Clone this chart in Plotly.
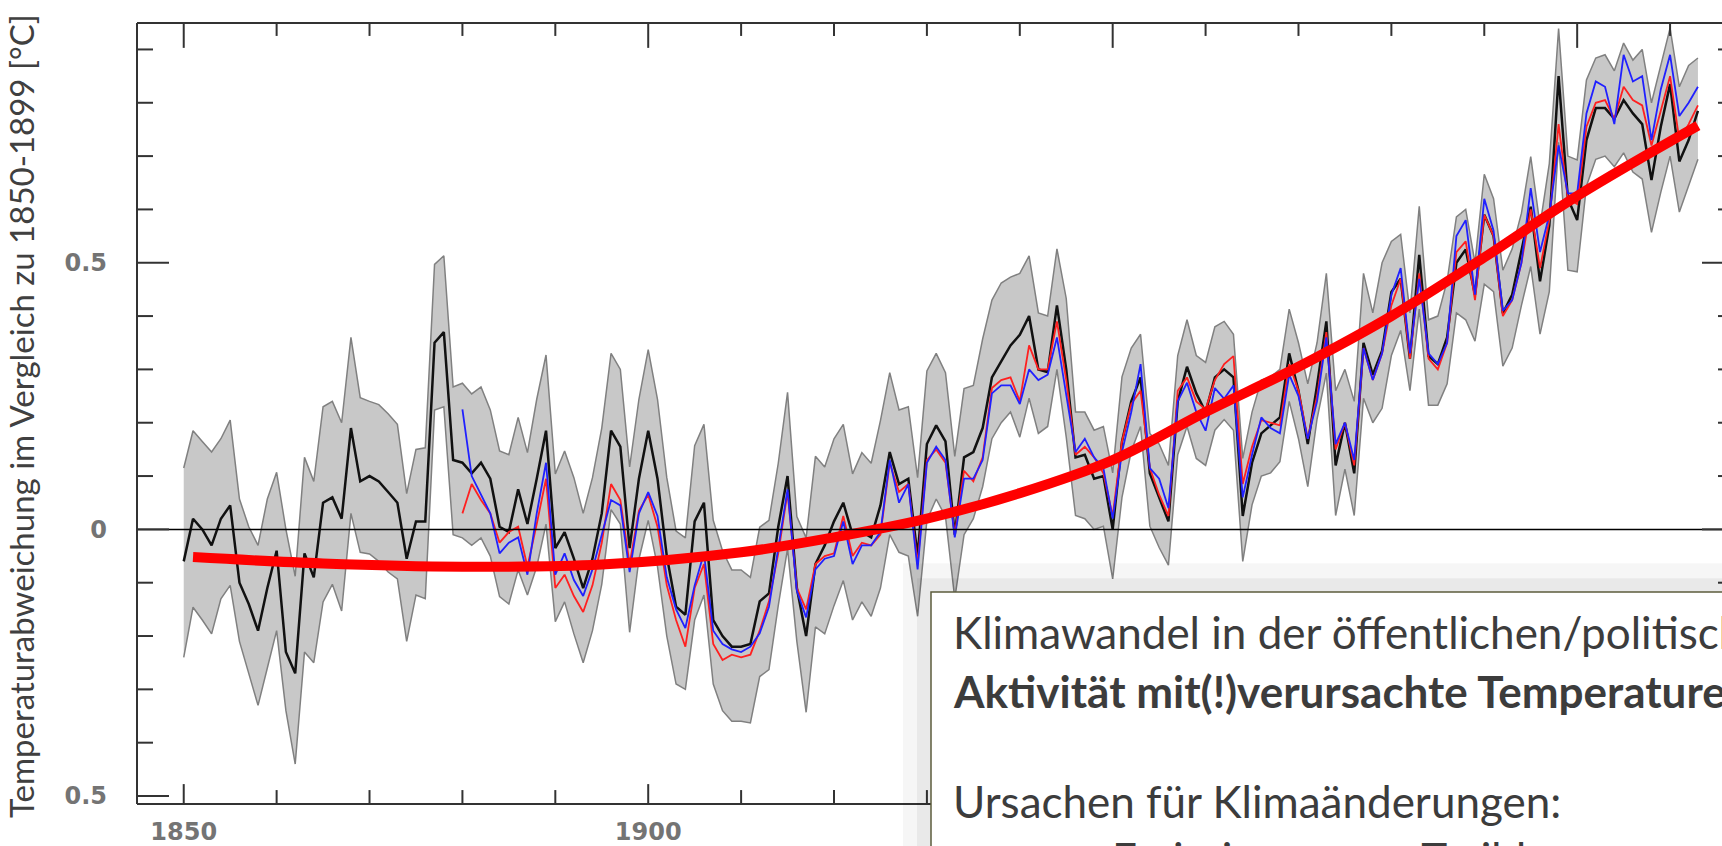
import plotly.graph_objects as go

# ---------------- data ----------------
years = list(range(1850, 2014))
years_b = list(range(1880, 2014))

black = [
    -0.06, 0.02, 0.00, -0.03, 0.02, 0.045, -0.10, -0.14, -0.19, -0.11,
    -0.04, -0.23, -0.27, -0.045, -0.09, 0.05, 0.06, 0.02, 0.19, 0.09,
    0.10, 0.09, 0.07, 0.05, -0.055, 0.015, 0.015, 0.35, 0.37, 0.13,
    0.125, 0.105, 0.125, 0.095, 0.005, -0.005, 0.075, 0.01, 0.095, 0.185,
    -0.035, -0.005, -0.055, -0.11, -0.055, 0.03, 0.185, 0.155, -0.035, 0.095,
    0.185, 0.095, -0.05, -0.145, -0.16, 0.015, 0.05, -0.17, -0.20, -0.22,
    -0.22, -0.215, -0.135, -0.12, 0.005, 0.10, -0.11, -0.20, -0.065, -0.03,
    0.015, 0.05, -0.01, -0.005, -0.015, 0.045, 0.145, 0.085, 0.095, -0.05,
    0.16, 0.195, 0.165, -0.01, 0.135, 0.145, 0.19, 0.285, 0.315, 0.345,
    0.365, 0.40, 0.30, 0.295, 0.42, 0.30, 0.135, 0.14, 0.095, 0.10,
    0.0, 0.165, 0.24, 0.285, 0.105, 0.06, 0.015, 0.24, 0.305, 0.255,
    0.22, 0.285, 0.30, 0.285, 0.025, 0.125, 0.18, 0.195, 0.21, 0.33,
    0.26, 0.16, 0.27, 0.39, 0.12, 0.20, 0.105, 0.35, 0.29, 0.335,
    0.445, 0.47, 0.32, 0.515, 0.325, 0.31, 0.36, 0.50, 0.525, 0.44,
    0.59, 0.55, 0.405, 0.44, 0.525, 0.605, 0.465, 0.57, 0.85, 0.62,
    0.58, 0.73, 0.79, 0.79, 0.77, 0.805, 0.78, 0.76, 0.655, 0.755,
    0.835, 0.69, 0.73, 0.785,
]

upper = [
    0.115, 0.185, 0.165, 0.145, 0.17, 0.205, 0.057, 0.005, -0.03, 0.057,
    0.107, 0.0, -0.088, 0.135, 0.09, 0.23, 0.24, 0.20, 0.36, 0.247,
    0.24, 0.234, 0.217, 0.197, 0.067, 0.15, 0.153, 0.497, 0.513, 0.267,
    0.274, 0.254, 0.267, 0.224, 0.147, 0.14, 0.21, 0.144, 0.244, 0.327,
    0.104, 0.147, 0.097, 0.03, 0.097, 0.19, 0.33, 0.30, 0.117, 0.244,
    0.337, 0.244, 0.097, -0.003, -0.016, 0.157, 0.197, 0.017, -0.04, -0.076,
    -0.076, -0.09, 0.004, 0.017, 0.124, 0.257, 0.024, -0.016, 0.137, 0.117,
    0.17, 0.197, 0.104, 0.144, 0.124, 0.204, 0.294, 0.224, 0.23, 0.097,
    0.297, 0.33, 0.294, 0.137, 0.264, 0.27, 0.357, 0.43, 0.462, 0.473,
    0.48, 0.513, 0.406, 0.40, 0.526, 0.433, 0.22, 0.22, 0.186, 0.193,
    0.106, 0.286, 0.34, 0.366, 0.18, 0.16, 0.12, 0.326, 0.393, 0.326,
    0.313, 0.38, 0.39, 0.366, 0.133, 0.22, 0.28, 0.286, 0.30, 0.413,
    0.35, 0.273, 0.35, 0.48, 0.26, 0.30, 0.24, 0.48, 0.406, 0.50,
    0.54, 0.553, 0.406, 0.606, 0.393, 0.40, 0.466, 0.586, 0.60, 0.50,
    0.666, 0.62, 0.486, 0.526, 0.593, 0.699, 0.57, 0.686, 0.939, 0.70,
    0.693, 0.843, 0.884, 0.89, 0.86, 0.912, 0.88, 0.90, 0.80, 0.87,
    0.94, 0.83, 0.87, 0.884,
]

lower = [
    -0.24, -0.146, -0.17, -0.196, -0.13, -0.105, -0.21, -0.27, -0.33, -0.26,
    -0.19, -0.34, -0.44, -0.23, -0.25, -0.136, -0.103, -0.153, 0.03, -0.043,
    -0.046, -0.06, -0.08, -0.093, -0.21, -0.123, -0.13, 0.224, 0.23, -0.01,
    -0.016, -0.03, -0.016, -0.05, -0.126, -0.14, -0.076, -0.123, -0.07, 0.01,
    -0.173, -0.136, -0.196, -0.25, -0.19, -0.103, 0.037, 0.01, -0.193, -0.056,
    0.017, -0.07, -0.20, -0.29, -0.30, -0.17, -0.123, -0.29, -0.34, -0.36,
    -0.36, -0.363, -0.276, -0.263, -0.143, -0.036, -0.21, -0.343, -0.183, -0.196,
    -0.143, -0.096, -0.17, -0.136, -0.163, -0.11, -0.01, -0.043, -0.05, -0.163,
    0.017, 0.057, 0.024, -0.13, -0.01, 0.02, 0.08, 0.17, 0.20, 0.22,
    0.173, 0.246, 0.18, 0.193, 0.30, 0.173, 0.026, 0.02, 0.0, 0.006,
    -0.093, 0.06, 0.147, 0.193, 0.006, -0.034, -0.067, 0.14, 0.193, 0.133,
    0.12, 0.186, 0.206, 0.186, -0.06, 0.046, 0.10, 0.106, 0.127, 0.24,
    0.17, 0.08, 0.207, 0.293, 0.026, 0.113, 0.026, 0.246, 0.20, 0.227,
    0.326, 0.373, 0.26, 0.413, 0.233, 0.233, 0.273, 0.406, 0.393, 0.353,
    0.46, 0.446, 0.306, 0.34, 0.42, 0.493, 0.366, 0.446, 0.726, 0.486,
    0.483, 0.644, 0.694, 0.70, 0.68, 0.706, 0.67, 0.657, 0.557, 0.632,
    0.70, 0.595, 0.644, 0.694,
]

red = [
    0.03, 0.085, 0.055, 0.03, -0.025, -0.005, 0.005, -0.07, 0.01, 0.095,
    -0.11, -0.085, -0.125, -0.155, -0.105, -0.025, 0.085, 0.055, -0.065, 0.035,
    0.065, 0.005, -0.105, -0.17, -0.22, -0.11, -0.065, -0.215, -0.245, -0.235,
    -0.24, -0.235, -0.19, -0.135, -0.045, 0.07, -0.11, -0.15, -0.065, -0.05,
    -0.045, 0.025, -0.05, -0.025, -0.03, -0.01, 0.125, 0.07, 0.085, -0.065,
    0.13, 0.15, 0.125, -0.01, 0.11, 0.09, 0.135, 0.265, 0.28, 0.285,
    0.24, 0.345, 0.30, 0.30, 0.39, 0.28, 0.14, 0.155, 0.135, 0.105,
    0.025, 0.165, 0.235, 0.26, 0.115, 0.065, 0.025, 0.26, 0.285, 0.24,
    0.225, 0.28, 0.31, 0.325, 0.085, 0.155, 0.205, 0.20, 0.195, 0.31,
    0.26, 0.17, 0.25, 0.37, 0.15, 0.20, 0.12, 0.34, 0.28, 0.33,
    0.42, 0.47, 0.32, 0.48, 0.32, 0.30, 0.35, 0.52, 0.54, 0.43,
    0.59, 0.55, 0.40, 0.43, 0.50, 0.60, 0.49, 0.58, 0.76, 0.62,
    0.61, 0.755, 0.80, 0.805, 0.77, 0.83, 0.805, 0.795, 0.72, 0.785,
    0.85, 0.73, 0.76, 0.795,
]

blue = [
    0.225, 0.10, 0.065, 0.03, -0.045, -0.025, -0.015, -0.085, 0.03, 0.125,
    -0.085, -0.045, -0.095, -0.125, -0.075, -0.01, 0.055, 0.045, -0.08, 0.03,
    0.07, 0.025, -0.09, -0.15, -0.185, -0.105, -0.045, -0.19, -0.215, -0.225,
    -0.23, -0.22, -0.195, -0.145, -0.035, 0.075, -0.115, -0.165, -0.075, -0.055,
    -0.05, 0.015, -0.065, -0.03, -0.03, -0.005, 0.13, 0.05, 0.085, -0.075,
    0.125, 0.155, 0.13, -0.015, 0.095, 0.095, 0.13, 0.255, 0.27, 0.27,
    0.235, 0.30, 0.28, 0.29, 0.36, 0.255, 0.145, 0.17, 0.135, 0.115,
    0.02, 0.145, 0.22, 0.31, 0.115, 0.095, 0.04, 0.24, 0.275, 0.22,
    0.185, 0.265, 0.245, 0.27, 0.06, 0.14, 0.21, 0.19, 0.18, 0.29,
    0.25, 0.17, 0.24, 0.36, 0.16, 0.20, 0.13, 0.34, 0.28, 0.33,
    0.44, 0.49, 0.33, 0.47, 0.33, 0.31, 0.35, 0.55, 0.58, 0.44,
    0.62, 0.56, 0.41, 0.43, 0.50, 0.64, 0.52, 0.59, 0.72, 0.63,
    0.63, 0.78, 0.84, 0.83, 0.76, 0.89, 0.84, 0.85, 0.73, 0.825,
    0.89, 0.775, 0.80, 0.83,
]

fit_years = [1851, 1865, 1880, 1895, 1910, 1920, 1930, 1940, 1950, 1960, 1970, 1980, 1990, 2000, 2013]
fit_vals = [-0.052, -0.064, -0.07, -0.066, -0.043, -0.015, 0.02, 0.068, 0.13, 0.22, 0.305, 0.40, 0.51, 0.625, 0.757]

y_major = [-0.5, 0.0, 0.5]
y_major_text = ["0.5", "0", "0.5"]
y_minor = [-0.4, -0.3, -0.2, -0.1, 0.1, 0.2, 0.3, 0.4, 0.6, 0.7, 0.8, 0.9]
x_major = [1850, 1900, 1950, 2000]
x_label_vals = [1850, 1900]
x_label_text = ["1850", "1900"]
x_minor = [1860, 1870, 1880, 1890, 1910, 1920, 1930, 1940, 1960, 1970, 1980, 1990, 2010]

y_title = "Temperaturabweichung im Vergleich zu 1850-1899 [°C]"
box_lines = [
    ("Klimawandel in der öffentlichen/politischen Diskussion:", False),
    ("Aktivität mit(!)verursachte Temperaturerhöhung", True),
    ("Ursachen für Klimaänderungen:", False),
    ("Emissionen von Treibhausgasen", False),
]

# ---------------- layout geometry (pixels) ----------------
W, H = 1722, 846
L, R, T, B = 137, 0, 23, 38
PW, PH = W - L - R, H - T - B


def px(x):
    return (x - L) / PW


def py(y):
    return (H - B - y) / PH


XR = [1844.97, 2015.59]
YR = [-0.515, 0.9496]

fig = go.Figure()

fig.add_trace(go.Scatter(x=years, y=upper, mode="lines",
                         line=dict(color="#808080", width=1.5),
                         hoverinfo="skip", showlegend=False))
fig.add_trace(go.Scatter(x=years, y=lower, mode="lines", fill="tonexty",
                         fillcolor="#c8c8c8",
                         line=dict(color="#808080", width=1.5),
                         hoverinfo="skip", showlegend=False))
fig.add_trace(go.Scatter(x=years, y=black, mode="lines",
                         line=dict(color="#111111", width=2.5),
                         showlegend=False))
fig.add_trace(go.Scatter(x=years_b, y=red, mode="lines",
                         line=dict(color="#ff2020", width=1.8),
                         showlegend=False))
fig.add_trace(go.Scatter(x=years_b, y=blue, mode="lines",
                         line=dict(color="#2020ff", width=1.8),
                         showlegend=False))
fig.add_trace(go.Scatter(x=fit_years, y=fit_vals, mode="lines",
                         line=dict(color="#ff0000", width=10, shape="spline", smoothing=1.0),
                         showlegend=False))

shapes = []
TICKC = "#333333"
# zero line
shapes.append(dict(type="line", xref="paper", yref="y", x0=0, x1=1, y0=0, y1=0,
                   line=dict(color="#000000", width=1.5), layer="above"))
# frame (right side lies outside the visible window)
right_edge = px(1734)
shapes.append(dict(type="line", xref="paper", yref="paper", x0=0, x1=0, y0=0, y1=1,
                   line=dict(color=TICKC, width=2)))
shapes.append(dict(type="line", xref="paper", yref="paper", x0=0, x1=right_edge, y0=1, y1=1,
                   line=dict(color=TICKC, width=2)))
shapes.append(dict(type="line", xref="paper", yref="paper", x0=0, x1=right_edge, y0=0, y1=0,
                   line=dict(color=TICKC, width=2)))
# y ticks (left and right)
for vals, ln in ((y_major, 32), (y_minor, 16)):
    for v in vals:
        shapes.append(dict(type="line", xref="paper", yref="y", x0=0, x1=ln / PW, y0=v, y1=v,
                           line=dict(color=TICKC, width=2)))
        shapes.append(dict(type="line", xref="paper", yref="y", x0=right_edge,
                           x1=right_edge - ln / PW, y0=v, y1=v,
                           line=dict(color=TICKC, width=2)))
# x ticks (top and bottom)
for vals, lt, lb in ((x_major, 25, 20), (x_minor, 13, 14)):
    for v in vals:
        shapes.append(dict(type="line", xref="x", yref="paper", x0=v, x1=v, y0=1, y1=1 - lt / PH,
                           line=dict(color=TICKC, width=2)))
        shapes.append(dict(type="line", xref="x", yref="paper", x0=v, x1=v, y0=0, y1=lb / PH,
                           line=dict(color=TICKC, width=2)))
# soft shadow of the text box
shapes.append(dict(type="rect", xref="paper", yref="paper", x0=px(903), x1=px(1760),
                   y0=py(870), y1=py(566), fillcolor="rgba(0,0,0,0.035)", line=dict(width=0)))
shapes.append(dict(type="rect", xref="paper", yref="paper", x0=px(917), x1=px(1760),
                   y0=py(870), y1=py(581), fillcolor="rgba(0,0,0,0.05)", line=dict(width=0)))
# text box
shapes.append(dict(type="rect", xref="paper", yref="paper", x0=px(931), x1=px(1760),
                   y0=py(870), y1=py(595), fillcolor="#ffffff",
                   line=dict(color="#5c5c3c", width=1.5)))

annotations = [
    dict(text=y_title, xref="paper", yref="paper", x=px(21), y=py(418),
         xanchor="center", yanchor="middle", textangle=-90, showarrow=False,
         font=dict(family="Lato", size=33, color="#404040")),
]
box_pos = [(951, 635), (951, 694), (951, 805), (1110, 862)]
for (txt, bold), (bx, by) in zip(box_lines, box_pos):
    annotations.append(dict(text=("<b>%s</b>" % txt) if bold else txt,
                            xref="paper", yref="paper", x=px(bx), y=py(by),
                            xanchor="left", yanchor="middle", showarrow=False,
                            font=dict(family="Lato", size=44, color="#3c3c3c")))

tick_font = dict(family="DejaVu Sans", size=24, color="#747474", weight="bold")
fig.update_layout(
    width=W, height=H,
    margin=dict(l=L, r=R, t=T, b=B, pad=0),
    paper_bgcolor="#ffffff", plot_bgcolor="#ffffff",
    shapes=shapes, annotations=annotations,
    showlegend=False,
    xaxis=dict(range=XR, showgrid=False, zeroline=False, showline=False, ticks="",
               tickvals=x_label_vals, ticktext=x_label_text, ticklabelstandoff=11,
               tickfont=tick_font),
    yaxis=dict(range=YR, showgrid=False, zeroline=False, showline=False, ticks="",
               tickvals=y_major, ticktext=y_major_text, ticklabelstandoff=29,
               tickfont=tick_font),
)

fig.write_html("out.html")
